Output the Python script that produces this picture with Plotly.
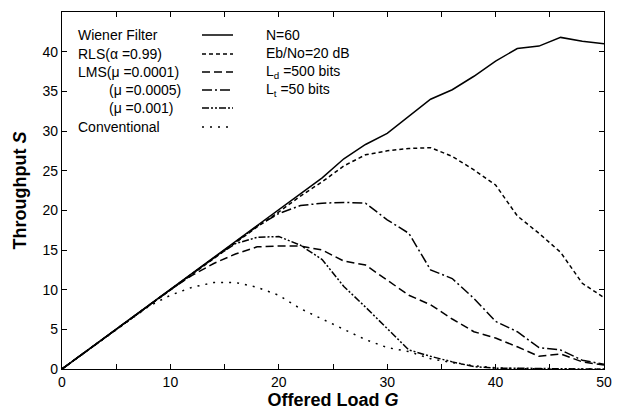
import plotly.graph_objects as go

G = [0, 2, 4, 6, 8, 10, 12, 14, 16, 18, 20, 22, 24, 26, 28, 30, 32, 34, 36, 38, 40, 42, 44, 46, 48, 50]

wiener = [0, 2, 4, 6, 8, 10, 12, 14, 16, 18, 20, 22, 24.1, 26.5, 28.3, 29.7, 31.8, 34.0, 35.2, 36.9, 38.8, 40.4, 40.7, 41.8, 41.3, 41.0]
rls = [0, 2, 4, 6, 8, 10, 12, 14, 16, 17.9, 19.8, 21.8, 23.6, 25.6, 27.0, 27.5, 27.8, 27.9, 26.8, 25.1, 23.2, 19.3, 17.1, 14.7, 10.8, 9.0]
lms_0001 = [0, 2, 4, 6, 8, 10, 11.8, 13.3, 14.5, 15.4, 15.5, 15.5, 15.0, 13.6, 13.1, 11.2, 9.3, 8.1, 6.3, 4.7, 3.9, 2.8, 1.6, 1.9, 0.9, 0.5]
lms_0005 = [0, 2, 4, 6, 8, 10, 12, 14, 15.9, 18.0, 19.6, 20.6, 20.9, 21.0, 20.9, 18.8, 17.1, 12.5, 11.4, 8.9, 6.0, 4.7, 2.7, 2.4, 1.1, 0.6]
lms_001 = [0, 2, 4, 6, 8, 10, 12, 14, 15.8, 16.6, 16.7, 15.6, 13.8, 10.4, 7.8, 5.1, 2.4, 1.6, 0.9, 0.3, 0.1, 0.1, 0.05, 0.05, 0.0, 0.0]
conventional = [0, 2, 4, 6, 7.9, 9.3, 10.3, 10.9, 10.9, 10.3, 9.3, 7.6, 6.3, 5.0, 3.7, 2.7, 2.2, 1.3, 0.8, 0.4, 0.15, 0.05, 0.0, 0.0, 0.0, 0.0]

x_ticks = [0, 10, 20, 30, 40, 50]
y_ticks = [0, 5, 10, 15, 20, 25, 30, 35, 40, 45]

legend_labels = ["Wiener Filter", "RLS(\u03b1 =0.99)", "LMS(\u03bc =0.0001)", "(\u03bc =0.0005)", "(\u03bc =0.001)", "Conventional"]
params = ["N=60", "Eb/No=20 dB", "L<sub>d</sub> =500 bits", "L<sub>t</sub> =50 bits"]

series = [wiener, rls, lms_0001, lms_0005, lms_001, conventional]
dashes = ["solid", "4px,3px", "8px,4px", "10px,3px,2px,3px", "7px,2px,2px,2px,2px,2px", "2px,6px"]

# page has an 8px body margin; size the figure so it fits the 620x412 window
OFF = 8
W, H = 620 - OFF, 412 - OFF
# target plot box in window pixels: left 62, right 604, top 12, bottom 369
L, T = 62 - OFF, 12 - OFF
R = W - (604 - OFF)
B = H - (369 - OFF)

fig = go.Figure()
for s, d, name in zip(series, dashes, legend_labels):
    fig.add_trace(go.Scatter(x=G, y=s, mode="lines", name=name,
                             line=dict(color="black", width=1.5, dash=d),
                             showlegend=False))

FONT = "Liberation Sans, Arial, sans-serif"

pw = W - L - R
ph = H - T - B
def px2paper(xp, yp):
    # xp, yp are window pixel coordinates
    return (xp - OFF - L) / pw, 1 - (yp - OFF - T) / ph

legend_y = [35, 54, 72, 90, 108, 127]
legend_x = [76, 76, 76, 107, 107, 76]
for lab, xp, yp, d in zip(legend_labels, legend_x, legend_y, dashes):
    xa, ya = px2paper(xp, yp)
    fig.add_annotation(x=xa, y=ya, xref="paper", yref="paper", text=lab,
                       showarrow=False, xanchor="left", yanchor="middle",
                       font=dict(family=FONT, size=14, color="black"))
    x0, y0 = px2paper(202, yp)
    x1, _ = px2paper(233, yp)
    fig.add_shape(type="line", xref="paper", yref="paper", x0=x0, x1=x1, y0=y0, y1=y0,
                  line=dict(color="black", width=1.5, dash=d))

for i, t in enumerate(params):
    xa, ya = px2paper(264, 35 + i * 18.3)
    fig.add_annotation(x=xa, y=ya, xref="paper", yref="paper", text=t,
                       showarrow=False, xanchor="left", yanchor="middle",
                       font=dict(family=FONT, size=14, color="black"))

axis_common = dict(showline=True, linecolor="black", linewidth=1.2, mirror="ticks",
                   ticks="inside", ticklen=5, tickcolor="black", tickwidth=1,
                   showgrid=False, zeroline=False,
                   tickfont=dict(family=FONT, size=14, color="black"))

fig.update_xaxes(range=[0, 50], tickvals=x_ticks, ticktext=[str(v) for v in x_ticks],
                 minor=dict(dtick=5, ticks="inside", ticklen=5, tickcolor="black", showgrid=False),
                 title=dict(text="<b>Offered Load <i>G</i></b>", standoff=0,
                            font=dict(family=FONT, size=18, color="black")),
                 **axis_common)
fig.update_yaxes(range=[0, 45], tickvals=y_ticks, ticktext=[str(v) for v in y_ticks],
                 title=dict(text="<b>Throughput <i>S</i></b>", standoff=11,
                            font=dict(family=FONT, size=18, color="black")),
                 **axis_common)

fig.update_layout(width=W, height=H, margin=dict(l=L, r=R, t=T, b=B, autoexpand=False),
                  plot_bgcolor="white", paper_bgcolor="white",
                  font=dict(family=FONT, color="black"))

fig.write_html("out.html")
